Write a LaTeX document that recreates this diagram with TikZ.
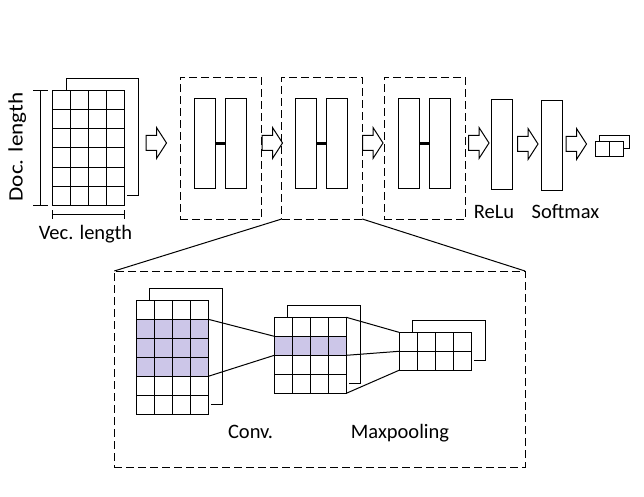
\documentclass[tikz,border=0pt]{standalone}
\usepackage{fontspec}
\setmainfont{Carlito}
\definecolor{shadecol}{RGB}{204,198,232}
\tikzset{
  rectbox/.style={draw, inner sep=0pt, outer sep=0pt, minimum width=21pt, minimum height=90pt},
  dashbox/.style={draw, dash pattern=on 8pt off 4pt, inner sep=0pt, outer sep=0pt},
  lbl/.style={inner sep=0pt, anchor=base},
  bar/.style={line width=3pt},
}
\newcommand\blockarrow[2]{%
  \draw[line join=miter] (#1,#2-7.5) -- ++(10.5,0) -- ++(0,-8) -- ++(10,15.5) -- ++(-10,15.5) -- ++(0,-8) -- ++(-10.5,0) -- cycle;}
\newcommand\matgrid[5]{% name, x, y, cols, rows
  \node[draw, inner sep=0pt, outer sep=0pt, minimum width={#4*18}, minimum height={#5*19}, anchor=north west] (#1) at (#2,#3) {};
  \foreach \i in {1,...,#4} \draw ([xshift=\i*18pt]#1.north west) -- ([xshift=\i*18pt]#1.south west);
  \foreach \j in {1,...,#5} \draw ([yshift=-\j*19pt]#1.north west) -- ([yshift=-\j*19pt]#1.north east);
}
\begin{document}
\begin{tikzpicture}[x=1pt, y=-1pt, line width=1pt, font=\fontsize{20.5}{24}\selectfont]
\useasboundingbox (0,0) rectangle (644,497);

% input matrix
\draw (66,91) -- (66,79) -- (138,79) -- (138,195) -- (127,195);
\matgrid{in}{52.7}{91}{4}{6}
\draw (33,91) -- (48,91);
\draw (33,205) -- (48,205);
\draw (40,91) -- (40,205);
\draw (52.7,214.3) -- (124.7,214.3);
\draw (52.7,210) -- (52.7,219);
\draw (124.7,210) -- (124.7,219);
\node[lbl, rotate=90, xscale=1.13] (doc) at (22.7,147) {Doc. length};
\node[lbl] (vec) at (85.5,239) {Vec. length};

% arrows
\blockarrow{146}{143}
\blockarrow{262}{143}
\blockarrow{362.5}{143}
\blockarrow{468.5}{143}
\blockarrow{517.5}{144}
\blockarrow{566}{144}

% dashed boxes
\node[dashbox, minimum width=81.7pt, minimum height=141.7pt] (b1) at (220.85,148.15) {};
\node[dashbox, minimum width=80.6pt, minimum height=141.7pt] (b2) at (322,148.15) {};
\node[dashbox, minimum width=81.7pt, minimum height=141.7pt] (b3) at (424.85,148.15) {};

% inner pairs
\node[rectbox] (a1) at (205,143.3) {};
\node[rectbox] (c1) at (236.2,143.3) {};
\draw[bar] (a1.east) -- (c1.west);
\node[rectbox] (a2) at (306.2,143.3) {};
\node[rectbox] (c2) at (337,143.3) {};
\draw[bar] (a2.east) -- (c2.west);
\node[rectbox] (a3) at (408.8,143.3) {};
\node[rectbox] (c3) at (439.8,143.3) {};
\draw[bar] (a3.east) -- (c3.west);

% relu / softmax
\node[rectbox] (relu) at (501.7,144.2) {};
\node[rectbox] (soft) at (551.8,145.3) {};
\node[lbl] (relulbl) at (494,218) {ReLu};
\node[lbl] (softlbl) at (565.5,218) {Softmax};

% output
\draw (599.3,142) -- (599.3,135.3) -- (629.3,135.3) -- (629.3,148.7) -- (623.3,148.7);
\node[draw, inner sep=0pt, outer sep=0pt, minimum width=28.3pt, minimum height=14.3pt, anchor=north west] (out) at (595,142) {};
\draw (out.north) -- (out.south);

% zoomed box
\node[dashbox, minimum width=410.7pt, minimum height=196.3pt, anchor=north west] (big) at (114.3,271) {};
\draw (b2.south west) -- (big.north west);
\draw (b2.south east) -- (big.north east);

% conv input
\draw (149.3,300.3) -- (149.3,288.3) -- (222.3,288.3) -- (222.3,404.3) -- (211,404.3);
\fill[shadecol] (136.3,319.3) rectangle (208.3,376.3);
\matgrid{m1}{136.3}{300.3}{4}{6}

% conv output
\draw (287.3,317.3) -- (287.3,305.3) -- (360.3,305.3) -- (360.3,383.3) -- (349.3,383.3);
\fill[shadecol] (274.3,336.3) rectangle (346.3,355.3);
\matgrid{m2}{274.3}{317.3}{4}{4}

% pooled
\draw (412.3,332.3) -- (412.3,320.3) -- (485.3,320.3) -- (485.3,360.3) -- (474,360.3);
\matgrid{m3}{399}{332.3}{4}{2}

% connecting lines
\draw ([yshift=-19pt]m1.north east) -- ([yshift=-19pt]m2.north west);
\draw ([yshift=-76pt]m1.north east) -- ([yshift=-38pt]m2.north west);
\draw (m2.north east) -- (m3.north west);
\draw ([yshift=-38pt]m2.north east) -- ([yshift=-19pt]m3.north west);
\draw (m2.south east) -- (m3.south west);

\node[lbl] (conv) at (250.5,438) {Conv.};
\node[lbl] (maxp) at (400,438) {Maxpooling};
\end{tikzpicture}
\end{document}
